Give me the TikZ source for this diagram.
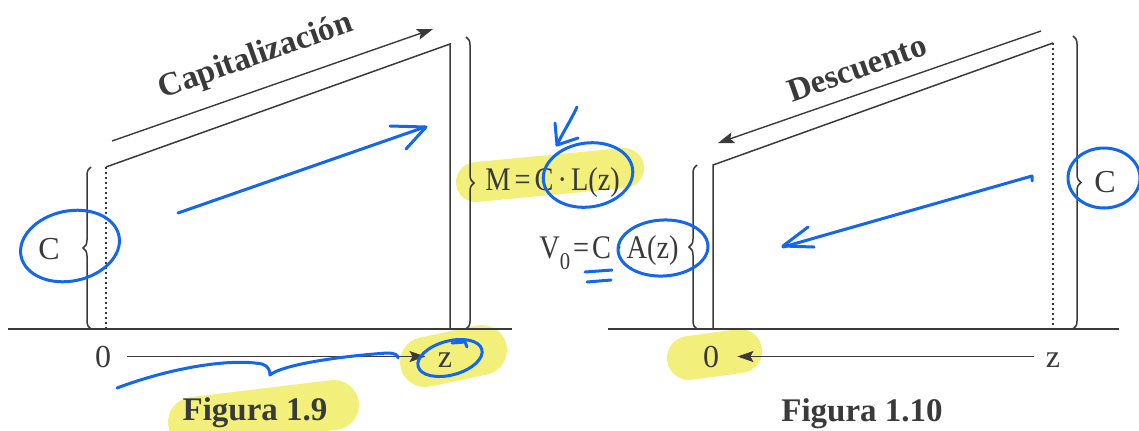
\documentclass[tikz,border=0pt]{standalone}
\usepackage{fontspec}
\setmainfont{Liberation Serif}
\newfontfamily\narrowserif[FakeStretch=0.86]{Liberation Serif}
\usetikzlibrary{arrows.meta,decorations.pathreplacing}
\definecolor{Ink}{HTML}{3A3A3A}
\definecolor{Pen}{HTML}{1366EE}
\definecolor{Marker}{HTML}{F2F07A}

\begin{document}
\begin{tikzpicture}[x=0.5pt,y=-0.5pt,
    edge/.style={draw=Ink,line width=0.75pt},
    ground/.style={draw=Ink,line width=0.85pt},
    dotline/.style={draw=Ink,line width=1.2pt,dash pattern=on 1.2pt off 1.3pt},
    arrow/.style={-{Stealth[length=8pt,width=5.5pt,inset=1.5pt]},draw=Ink,line width=0.7pt},
    bracket/.style={draw=Ink,line width=0.75pt,decorate,decoration={brace,amplitude=4pt}},
    label/.style={inner sep=0pt,text=Ink,font=\fontsize{16}{18}\selectfont},
    formula/.style={inner sep=0pt,text=Ink,font=\narrowserif\fontsize{16.5}{18}\selectfont},
    title/.style={inner sep=0pt,text=Ink,font=\bfseries\fontsize{16.5}{18}\selectfont},
    pen/.style={draw=Pen,line width=1.5pt,line cap=round,line join=round},
    marker/.style={draw=Marker,line cap=round}
]
\useasboundingbox (0,0) rectangle (1139,430);

% marker strokes
\draw[marker,line width=25pt] (193,422) -- (334,405);
\draw[marker,line width=25pt] (425,362) -- (482,350);
\draw[marker,line width=20pt] (476,182) -- (624,168);
\draw[marker,line width=22pt] (689,358) -- (740,351);

% Figura 1.9
\coordinate (lo) at (106,329);
\coordinate (lc) at (106,167);
\coordinate (lm) at (450,44);
\coordinate (lz) at (450,329);
\draw[ground] (8,329) -- (512,329);
\draw[dotline] (lo) -- (lc);
\draw[edge] (lc) -- (lm) -- (lz);
\coordinate (ca) at (112,141);
\coordinate (cb) at (433,29);
\draw[arrow] (ca) -- (cb);
\draw[bracket] (91,329) -- (91,167);
\draw[bracket] (466,37) -- (466,329);
\node[title,rotate=19.5] (capit) at (256,57) {Capitalización};
\node[label,anchor=base] (c1) at (49,259) {C};
\node[formula,anchor=base west] (mon) at (485,190) {M\kern2pt=\kern2pt C\kern2pt·\kern2pt L(z)};
\node[label,anchor=base] (zero1) at (103,367) {0};
\node[label,anchor=base] (z1) at (445,367) {z};
\draw[arrow,shorten <=8pt,shorten >=6pt] (zero1.east) -- (zero1.east -| z1.west);
\node[title,anchor=base] (fig1) at (255,420) {Figura 1.9};

% Figura 1.10
\coordinate (ro) at (713,329);
\coordinate (rc) at (713,165);
\coordinate (rm) at (1053,43);
\coordinate (rz) at (1053,329);
\draw[ground] (608,329) -- (1119,329);
\draw[edge] (ro) -- (rc) -- (rm);
\draw[dotline] (rm) -- (rz);
\coordinate (da) at (1041,31);
\coordinate (db) at (718,143);
\draw[arrow] (da) -- (db);
\draw[bracket] (697,329) -- (697,165);
\draw[bracket] (1073,36) -- (1073,329);
\node[title,rotate=19.5] (desc) at (857,68) {Descuento};
\node[formula,anchor=base east] (val) at (679,258) {V\raisebox{-0.35em}{\fontsize{12}{12}\selectfont 0}\kern1.5pt=\kern1.5pt C\kern1.5pt·\kern1.5pt A(z)};
\node[label,anchor=base] (c2) at (1105,192) {C};
\node[label,anchor=base] (zero2) at (711,367) {0};
\node[label,anchor=base] (z2) at (1053,367) {z};
\draw[arrow,shorten <=6pt,shorten >=9pt] (zero2.east -| z2.west) -- (zero2.east);
\node[title,anchor=base] (fig2) at (862,421) {Figura 1.10};

% pen notes
\draw[pen] (178,213) -- (425,127);
\draw[pen] (390,126) -- (426,127) -- (406,149);
\draw[pen,rotate around={12:(70,246)}] (70,246) ellipse [x radius=50,y radius=35];
\draw[pen,rotate around={15:(450,358)}] (450,358) ellipse [x radius=33,y radius=17];
\draw[pen] (452,343) -- (465,342) -- (467,347);
\draw[pen] (117,388) .. controls (170,368) and (230,358) .. (262,364) .. controls (268,366) and (270,370) .. (270,375)
    .. controls (280,366) and (330,357) .. (387,353) .. controls (395,353) and (398,355) .. (398,358);
\draw[pen,rotate around={8:(588,175)}] (588,175) ellipse [x radius=45,y radius=32];
\draw[pen] (577,107) .. controls (570,122) and (562,134) .. (557,145);
\draw[pen] (555,123) -- (557,145) -- (578,138);
\draw[pen,rotate around={3:(663,248)}] (663,248) ellipse [x radius=45,y radius=28];
\draw[pen] (585,272) -- (612,270);
\draw[pen] (587,282) -- (611,280);
\draw[pen] (783,247) -- (1032,176) -- (1032,181);
\draw[pen] (808,227) -- (783,246) -- (814,247);
\draw[pen] (1104,178) ellipse [x radius=36,y radius=30];
\end{tikzpicture}
\end{document}
